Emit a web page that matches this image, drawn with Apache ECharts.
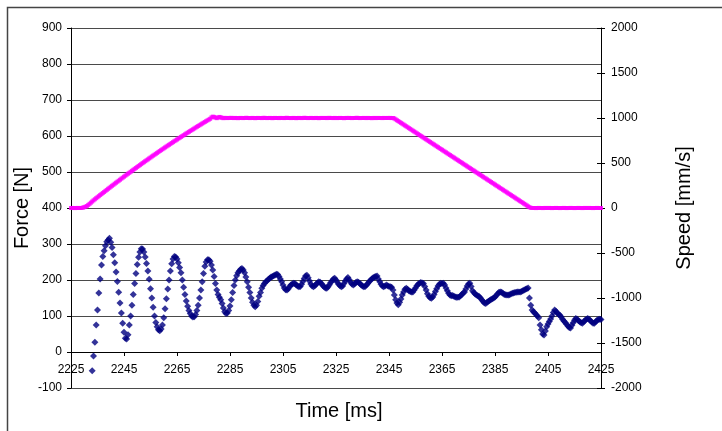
<!DOCTYPE html>
<html>
<head>
<meta charset="utf-8">
<script src="https://cdn.jsdelivr.net/npm/echarts@6/dist/echarts.min.js"></script>
<style>
  html, body { margin: 0; padding: 0; background: #fff; }
  #chart { width: 722px; height: 431px; }
</style>
</head>
<body>
<div id="chart"></div>
<script>
// Sampling of the measurement (ms)
const sampleStep = 0.5;
const forceStart = 2233.0;   // first force sample
const speedStart = 2225.0;   // first speed sample

// Axis ranges: [min, max, interval]
const timeAxis = [2225, 2425, 20];
const forceAxis = [-100, 900, 100];
const speedAxis = [-2000, 2000, 500];

// Force [N], one value per 0.5 ms from 2233.0 ms
const forceN = [
  -52, -11, 27, 75, 117, 164, 203, 242, 265, 281, 295, 306, 311, 316,
  305, 290, 270, 248, 222, 196, 166, 136, 108, 80, 55, 38, 36, 48,
  75, 100, 130, 160, 190, 218, 243, 263, 278, 287, 286,
  278, 264, 246, 225, 202, 176, 150, 124, 100, 82, 70, 62, 59, 64,
  75, 95, 120, 148, 175, 200, 225, 245, 258, 265, 264, 258,
  248, 235, 220, 200, 180, 160, 142, 127, 115, 107, 100, 97, 98, 104,
  115, 130, 150, 172, 195, 218, 238, 250, 256, 256, 252,
  242, 228, 210, 190, 172, 160, 152, 145, 135, 122, 112, 107, 108, 115,
  128, 145, 165, 185, 200, 212, 220, 225, 230, 232, 228,
  220, 208, 195, 180, 165, 150, 138, 130, 126, 130,
  140, 155, 165, 177, 185, 190, 195, 198, 202, 205, 208, 210, 212, 214, 216, 215, 210,
  203, 195, 186, 178, 173, 172, 176, 182, 186, 189,
  191, 190, 186, 183, 181, 182, 188, 196, 204, 211,
  213, 206, 197, 189, 183, 181, 184, 188, 192, 195,
  194, 190, 185, 181, 178, 177, 181, 187, 193, 198,
  203, 205, 200, 194, 188, 184, 181, 183, 190, 197,
  203, 207, 201, 194, 189, 186, 189, 193, 195, 194,
  190, 186, 183, 181, 182, 186, 190, 195, 199, 203,
  206, 208, 210, 211, 203, 195, 188, 183, 181, 183,
  186, 184, 182, 181, 180, 172, 158, 145, 136, 131,
  138, 147, 158, 167, 174, 177, 174, 170, 168, 167,
  167, 172, 178, 184, 188, 191, 193, 192, 190, 182,
  172, 162, 155, 151, 149, 153, 160, 168, 176, 183,
  188, 191, 190, 191, 186, 178, 170, 163, 158, 156,
  157, 155, 153, 152, 152, 153, 156, 160, 164, 167,
  175, 183, 189, 191, 182, 170, 165, 161, 158, 156,
  154, 150, 145, 140, 136, 135, 138, 141, 143, 146,
  148, 150, 153, 157, 162, 166, 167, 166, 163, 160,
  159, 158, 158, 159, 161, 163, 164, 165, 166, 167,
  167, 167, 168, 170, 172, 174, 176, 178, 150, 130,
  117, 112, 108, 104, 100, 95, 75, 62, 50, 47,
  58, 70, 78, 85, 92, 100, 110, 117, 113, 108,
  105, 102, 97, 91, 86, 82, 77, 72, 68, 67,
  74, 81, 88, 93, 91, 87, 84, 81, 80, 84,
  88, 91, 93, 91, 87, 83, 80, 80, 84, 88,
  90, 91, 90
];

// Speed [mm/s], one value per 0.5 ms from 2225.0 ms
const speedMmS = [
  0, 1, 0, -1, 0, 1, 0, 0, 1, 4,
  9, 15, 22, 34, 46, 59, 72, 85, 97, 109,
  120, 132, 144, 155, 167, 178, 190, 201, 213, 224,
  236, 247, 258, 270, 281, 292, 303, 314, 326, 337,
  348, 359, 370, 381, 391, 402, 413, 424, 435, 445,
  456, 467, 477, 488, 499, 509, 520, 530, 540, 551,
  561, 572, 582, 592, 602, 612, 623, 633, 643, 653,
  663, 673, 683, 693, 702, 712, 722, 732, 742, 751,
  761, 771, 780, 790, 799, 809, 818, 828, 837, 846,
  856, 865, 874, 883, 893, 902, 911, 920, 929, 938,
  947, 956, 965, 974, 982, 991, 1006, 1015, 1012, 1004,
  998, 1005, 1012, 1008, 1001, 998, 1002, 1000, 999, 1001,
  1000, 1002, 1000, 999, 1001, 1000, 998, 1000, 1001, 1000,
  999, 1000, 1002, 1001, 1000, 999, 1000, 1001, 1000, 998,
  1000, 1001, 1000, 1000, 999, 1001, 1002, 1000, 999, 1000,
  1001, 1000, 998, 1000, 1001, 1000, 1000, 999, 1001, 1000,
  1000, 999, 1001, 1002, 1000, 1000, 999, 1000, 1001, 1000,
  998, 1000, 1001, 1000, 999, 1000, 1002, 1001, 1000, 999,
  1000, 1001, 1000, 999, 1000, 1001, 1000, 998, 1000, 1001,
  1000, 1000, 1001, 999, 1000, 1002, 1000, 1000, 999, 1001,
  1000, 999, 1000, 1001, 1000, 1000, 998, 1000, 1001, 1000,
  1001, 1000, 999, 1000, 1000, 1001, 1002, 1000, 999, 1000,
  1000, 1001, 1000, 999, 1001, 1000, 1000, 998, 1000, 1001,
  999, 1000, 1001, 1000, 1000, 999, 1001, 1000, 1000, 1001,
  1000, 1001, 999, 1000, 995, 985, 975, 966, 956, 946,
  937, 927, 917, 908, 898, 888, 879, 869, 859, 850,
  840, 830, 821, 811, 801, 792, 782, 772, 763, 753,
  743, 734, 724, 714, 705, 695, 685, 676, 666, 656,
  647, 637, 627, 618, 608, 598, 589, 579, 569, 560,
  550, 540, 531, 521, 511, 502, 492, 482, 473, 463,
  453, 444, 434, 424, 415, 405, 395, 386, 376, 366,
  357, 347, 337, 328, 318, 308, 299, 289, 279, 270,
  260, 250, 241, 231, 221, 212, 202, 192, 183, 173,
  163, 154, 144, 134, 125, 115, 105, 96, 86, 76,
  67, 57, 47, 38, 28, 18, 9, 2, 0, 0,
  0, -1, 0, 1, 0, 0, -1, 0, 1, 0,
  0, 1, 0, -1, 0, 0, 1, 0, 0, -1,
  0, 0, 1, 0, -1, 0, 0, 1, 0, 0,
  -1, 0, 0, 1, 0, 0, -1, 0, 1, 0,
  0, 1, 0, 0, -1, 0, 0, 1, 0, 0,
  0
];

const FONT = 'Liberation Sans, Arial, Helvetica, sans-serif';
const GRID = { left: 71, right: 121, top: 28, bottom: 43 };
const plotHeight = 431 - GRID.top - GRID.bottom;

// The time axis crosses the force axis at 0 N
const zeroOffset = -plotHeight * (0 - forceAxis[0]) / (forceAxis[1] - forceAxis[0]);

const forceData = forceN.map((v, i) => [forceStart + i * sampleStep, v]);
const speedData = speedMmS.map((v, i) => [speedStart + i * sampleStep, v]);

const chart = echarts.init(document.getElementById('chart'), null, { renderer: 'canvas' });

const plain = (v) => String(v);
const tickLabel = { color: '#000', fontSize: 12, fontFamily: FONT, formatter: plain };
const blackLine = { color: '#000', width: 1 };

chart.setOption({
  animation: false,
  backgroundColor: '#fff',
  grid: { left: GRID.left, right: GRID.right, top: GRID.top, bottom: GRID.bottom, containLabel: false },
  xAxis: {
    type: 'value',
    position: 'bottom',
    offset: zeroOffset,
    min: timeAxis[0], max: timeAxis[1], interval: timeAxis[2],
    axisLine: { show: true, onZero: false, lineStyle: blackLine },
    axisTick: { show: true, length: 4, lineStyle: blackLine },
    axisLabel: Object.assign({ margin: 12, showMinLabel: true, showMaxLabel: true }, tickLabel),
    splitLine: { show: false }
  },
  yAxis: [
    {
      type: 'value', position: 'left',
      min: forceAxis[0], max: forceAxis[1], interval: forceAxis[2],
      axisLine: { show: true, onZero: false, lineStyle: blackLine },
      axisTick: { show: true, length: 4, lineStyle: blackLine },
      axisLabel: Object.assign({ margin: 9 }, tickLabel),
      splitLine: { show: true, lineStyle: { color: '#4a4a4a', width: 1 } }
    },
    {
      type: 'value', position: 'right',
      min: speedAxis[0], max: speedAxis[1], interval: speedAxis[2],
      axisLine: { show: true, onZero: false, lineStyle: blackLine },
      axisTick: { show: true, length: 4, lineStyle: blackLine },
      axisLabel: Object.assign({ margin: 10 }, tickLabel),
      splitLine: { show: false }
    },
    {
      // inner half of the crossing ticks on the speed axis
      type: 'value', position: 'right',
      min: speedAxis[0], max: speedAxis[1], interval: speedAxis[2],
      axisLine: { show: false, onZero: false },
      axisTick: { show: true, inside: true, length: 4, lineStyle: blackLine },
      axisLabel: { show: false },
      splitLine: { show: false }
    }
  ],
  series: [
    {
      name: 'Speed',
      type: 'scatter',
      yAxisIndex: 1,
      symbol: 'rect',
      symbolSize: 4,
      itemStyle: { color: '#ff00ff' },
      data: speedData
    },
    {
      name: 'Force',
      type: 'scatter',
      yAxisIndex: 0,
      symbol: 'diamond',
      symbolSize: 7,
      itemStyle: { color: '#000080' },
      data: forceData
    }
  ],
  graphic: [
    {
      type: 'polyline',
      shape: { points: [[7.5, 431], [7.5, 7.5], [722, 7.5]] },
      style: { stroke: '#444', lineWidth: 1.5, fill: null },
      silent: true
    },
    {
      type: 'text', x: 22, y: 208, rotation: Math.PI / 2,
      style: { text: 'Force [N]', font: '20px ' + FONT, fill: '#000', align: 'center', verticalAlign: 'middle' }
    },
    {
      type: 'text', x: 684, y: 208, rotation: Math.PI / 2,
      style: { text: 'Speed [mm/s]', font: '20px ' + FONT, fill: '#000', align: 'center', verticalAlign: 'middle' }
    },
    {
      type: 'text', x: 339, y: 411,
      style: { text: 'Time [ms]', font: '20px ' + FONT, fill: '#000', align: 'center', verticalAlign: 'middle' }
    }
  ]
});
</script>
</body>
</html>
